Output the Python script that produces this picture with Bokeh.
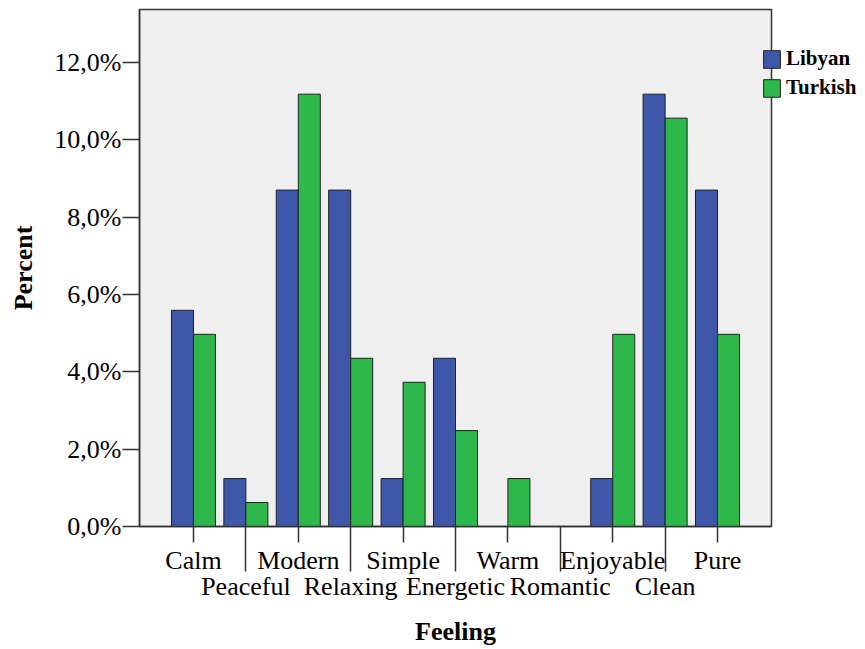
from bokeh.plotting import figure
from bokeh.models import (ColumnDataSource, LinearAxis, FixedTicker, Range1d,
                          Legend, LegendItem, CustomJSTickFormatter)
from bokeh.embed import file_html
from bokeh.resources import INLINE

categories = ["Calm", "Peaceful", "Modern", "Relaxing", "Simple", "Energetic",
              "Warm", "Romantic", "Enjoyable", "Clean", "Pure"]
libyan = [5.59, 1.24, 8.70, 8.70, 1.24, 4.35, 0.0, 0.0, 1.24, 11.18, 8.70]
turkish = [4.97, 0.62, 11.18, 4.35, 3.73, 2.48, 1.24, 0.0, 4.97, 10.56, 4.97]
y_ticks = [0, 2, 4, 6, 8, 10, 12]
series_names = ["Libyan", "Turkish"]

FONT = "Liberation Serif"
BLUE = "#3f57a8"
GREEN = "#2eb84b"
EDGE = "#222222"
AX = "#333333"

idx = list(range(len(categories)))
bw = 0.42
src = ColumnDataSource(dict(
    x=idx,
    xl=[i - bw / 2 for i in idx],
    xr=[i + bw / 2 for i in idx],
    lib=libyan, tur=turkish, cat=categories))

p = figure(frame_width=632, frame_height=517, output_backend="svg", toolbar_location=None,
           x_range=Range1d(-1.03, len(categories) - 1 + 1.03),
           y_range=Range1d(0, 13.37),
           min_border_left=139, min_border_right=86, min_border_top=9,
           min_border_bottom=0, x_axis_location=None, y_axis_location=None)
p.background_fill_color = "#efefef"
p.border_fill_color = "white"
p.outline_line_color = AX
p.outline_line_width = 1.5
p.xgrid.visible = False
p.ygrid.visible = False

r1 = p.vbar(x="xl", top="lib", width=bw, bottom=0, source=src,
            fill_color=BLUE, line_color=EDGE, line_width=1)
r2 = p.vbar(x="xr", top="tur", width=bw, bottom=0, source=src,
            fill_color=GREEN, line_color=EDGE, line_width=1)

# Y axis
yax = LinearAxis(ticker=FixedTicker(ticks=y_ticks, minor_ticks=[]),
                 formatter=CustomJSTickFormatter(code="return tick.toFixed(1).replace('.', ',') + '%';"),
                 axis_label="Percent")
yax.major_label_text_font = FONT
yax.major_label_text_font_size = "26px"
yax.major_label_text_color = "black"
yax.major_tick_out = 17
yax.major_tick_in = 0
yax.major_label_standoff = 1
yax.axis_line_color = AX
yax.axis_line_width = 1.5
yax.major_tick_line_color = AX
yax.major_tick_line_width = 1.5
yax.axis_label_text_font = FONT
yax.axis_label_text_font_style = "bold"
yax.axis_label_text_font_size = "26px"
yax.axis_label_text_color = "black"
yax.axis_label_standoff = 13
p.add_layout(yax, "left")

# X axis row 1 (even categories) + long minor ticks for odd ones
even = idx[0::2]
odd = idx[1::2]
xa = LinearAxis(ticker=FixedTicker(ticks=even, minor_ticks=odd),
                major_label_overrides={i: categories[i] for i in even})
xa.major_label_text_font = FONT
xa.major_label_text_font_size = "26px"
xa.major_label_text_color = "black"
xa.major_tick_out = 16
xa.major_tick_in = 0
xa.minor_tick_out = 45
xa.minor_tick_in = 0
xa.major_label_standoff = -26
xa.axis_line_color = AX
xa.axis_line_width = 1.5
xa.major_tick_line_color = AX
xa.major_tick_line_width = 1.5
xa.minor_tick_line_color = AX
xa.minor_tick_line_width = 1.5
p.add_layout(xa, "below")

# X axis row 2 (odd categories)
xb = LinearAxis(ticker=FixedTicker(ticks=odd, minor_ticks=[]),
                major_label_overrides={i: categories[i] for i in odd},
                axis_label="Feeling")
xb.major_label_text_font = FONT
xb.major_label_text_font_size = "26px"
xb.major_label_text_color = "black"
xb.major_tick_out = 0
xb.major_tick_in = 0
xb.major_label_standoff = -6
xb.axis_line_color = None
xb.major_tick_line_color = None
xb.axis_label_text_font = FONT
xb.axis_label_text_font_style = "bold"
xb.axis_label_text_font_size = "26px"
xb.axis_label_text_color = "black"
xb.axis_label_standoff = 13
p.add_layout(xb, "below")

legend = Legend(items=[LegendItem(label=series_names[0], renderers=[r1]),
                       LegendItem(label=series_names[1], renderers=[r2])],
                location=(-10, 426))
legend.label_text_font = FONT
legend.label_text_font_style = "bold"
legend.label_text_font_size = "21px"
legend.label_text_color = "black"
legend.glyph_width = 21
legend.glyph_height = 22
legend.label_height = 22
legend.label_standoff = 4
legend.spacing = 4
legend.padding = 0
legend.margin = 0
legend.border_line_alpha = 0
legend.background_fill_alpha = 0
p.add_layout(legend, "right")

open("out.html", "w").write(file_html(p, INLINE))
